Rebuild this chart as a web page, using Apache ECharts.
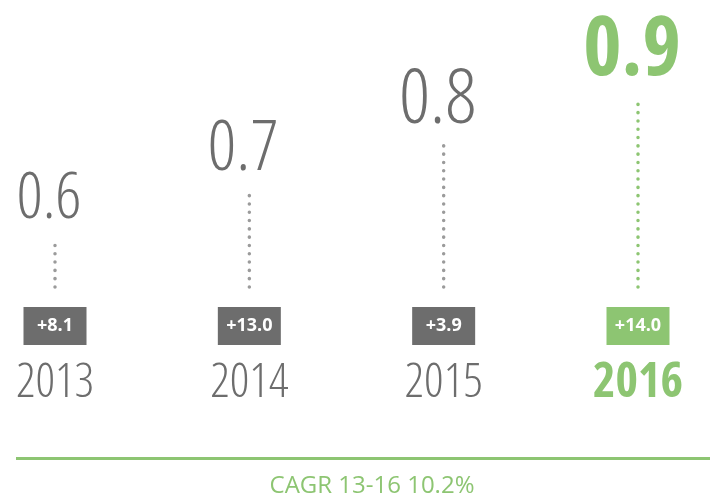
<!DOCTYPE html>
<html>
<head>
<meta charset="utf-8">
<script src="https://cdn.jsdelivr.net/npm/echarts@6/dist/echarts.min.js"></script>
<style>
html, body { margin: 0; padding: 0; background: #fff; }
#chart { width: 710px; height: 498px; }
</style>
</head>
<body>
<div id="chart"></div>
<script>
var years = ['2013', '2014', '2015', '2016'];
var values = [0.6, 0.7, 0.8, 0.9];
var growth = ['+8.1', '+13.0', '+3.9', '+14.0'];
var highlightYear = '2016';
var cagrText = 'CAGR 13-16 10.2%';
var baseValue = 0.5;

var GREY = '#6d6d6d';
var GREEN = '#8dc572';
var DOT_GREY = '#9b9b9b';
var FONT = '"Open Sans"';

var chart = echarts.init(document.getElementById('chart'));

var option = {
  animation: false,
  grid: { left: 55, right: 72, top: 48.5, bottom: 211 },
  xAxis: {
    type: 'category',
    data: years,
    boundaryGap: false,
    axisLine: { show: false },
    axisTick: { show: false },
    splitLine: { show: false },
    axisLabel: {
      interval: 0,
      hideOverlap: false,
      margin: 72,
      fontFamily: FONT,
      fontStyle: 'condensed',
      fontWeight: 300,
      fontSize: 48,
      color: GREY,
      formatter: function (v) {
        return v === highlightYear ? '{hl|' + v + '}' : v;
      },
      rich: {
        hl: { fontFamily: FONT, fontStyle: 'condensed', fontSize: 48, fontWeight: 'bold', color: GREEN }
      }
    }
  },
  yAxis: { type: 'value', min: baseValue, max: 1.0, show: false },
  series: [{
    type: 'custom',
    data: values.map(function (v, i) { return [i, v]; }),
    renderItem: function (params, api) {
      var i = api.value(0);
      var v = api.value(1);
      var top = api.coord([i, v]);
      var base = api.coord([i, baseValue]);
      var hl = years[i] === highlightYear;
      // bigger numbers are printed bigger
      var fs = 100 * Math.sqrt(v) - 13;
      return {
        type: 'group',
        children: [
          {
            type: 'line',
            shape: { x1: base[0], y1: base[1], x2: top[0], y2: top[1] },
            style: { stroke: hl ? GREEN : DOT_GREY, lineWidth: 3.5, lineDash: [0.1, 8.2], lineCap: 'round' }
          },
          {
            type: 'text',
            x: top[0] - 6,
            y: top[1] - 22 - 0.277 * fs,
            style: {
              text: v.toFixed(1),
              fill: hl ? GREEN : GREY,
              font: (hl ? 'condensed 700 ' : 'condensed 300 ') + fs + 'px ' + FONT,
              align: 'center',
              verticalAlign: 'middle'
            }
          },
          {
            type: 'rect',
            shape: { x: base[0] - 31.5, y: base[1] + 20, width: 63, height: 38 },
            style: { fill: hl ? GREEN : GREY }
          },
          {
            type: 'text',
            x: base[0],
            y: base[1] + 39,
            style: {
              text: growth[i],
              fill: '#fff',
              font: '700 18px ' + FONT,
              align: 'center',
              verticalAlign: 'middle'
            }
          }
        ]
      };
    }
  }],
  graphic: [
    {
      type: 'line',
      shape: { x1: 16, y1: 458.5, x2: 710, y2: 458.5 },
      style: { stroke: GREEN, lineWidth: 3 }
    },
    {
      type: 'text',
      x: 372,
      y: 486,
      style: {
        text: cagrText,
        fill: GREEN,
        font: '400 24px ' + FONT,
        align: 'center',
        verticalAlign: 'middle'
      }
    }
  ]
};

chart.setOption(option);
</script>
</body>
</html>
